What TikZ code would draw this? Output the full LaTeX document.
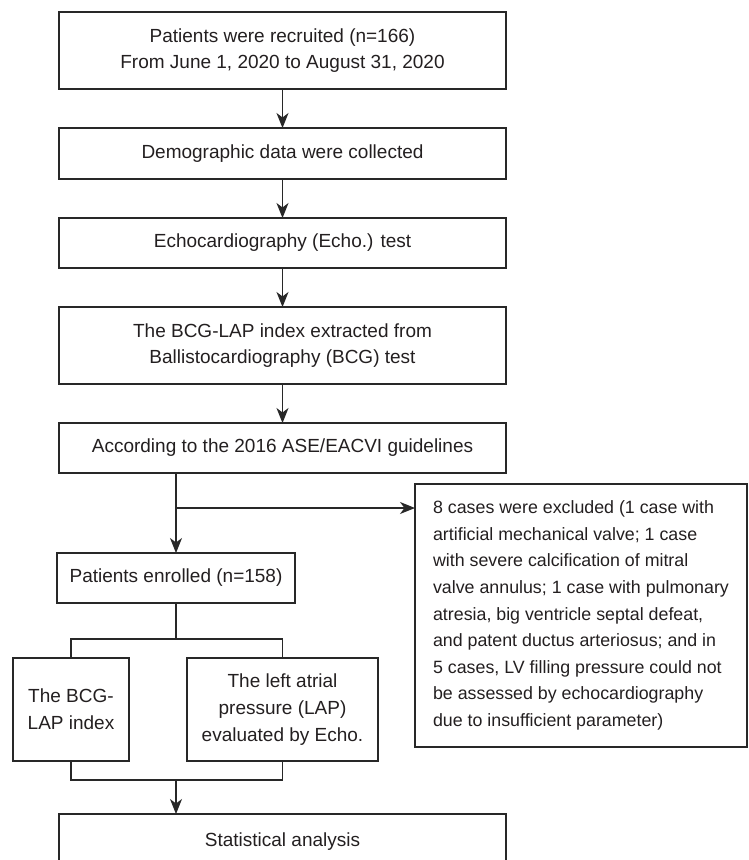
\documentclass[tikz,border=0pt]{standalone}
\usepackage{fontspec}
\setmainfont{Liberation Sans}
\usetikzlibrary{arrows.meta}
\definecolor{linec}{RGB}{40,40,40}
\definecolor{textc}{RGB}{35,31,32}
\begin{document}
\begin{tikzpicture}[x=1pt,y=-1pt,
  box/.style={draw=linec, line width=1.2pt, inner sep=0pt, outer sep=0pt, align=center,
    font=\fontsize{19}{26.7}\selectfont, text=textc},
  conn/.style={draw=linec, line width=1.2pt},
  arr/.style={conn, -{Stealth[length=15pt,width=12pt,inset=4.5pt]}}]
\useasboundingbox (0,0) rectangle (748,860);
\node[box, minimum width=447pt, minimum height=77pt] (b1) at (282.5,50.5)
  {Patients were recruited (n=166)\\From June 1, 2020 to August 31, 2020};
\node[box, minimum width=447pt, minimum height=51pt] (b2) at (282.5,153.5)
  {Demographic data were collected};
\node[box, minimum width=447pt, minimum height=50pt] (b3) at (282.5,243)
  {Echocardiography (Echo.) test};
\node[box, minimum width=447pt, minimum height=77pt] (b4) at (282.5,345.5)
  {The BCG-LAP index extracted from\\Ballistocardiography (BCG) test};
\node[box, minimum width=447pt, minimum height=50pt] (b5) at (282.5,448)
  {According to the 2016 ASE/EACVI guidelines};
\node[box, align=left, font=\fontsize{17.8}{26.6}\selectfont,
  minimum width=332pt, minimum height=263pt] (ex) at (581,615.5)
  {8 cases were excluded (1 case with\\
   artificial mechanical valve; 1 case\\
   with severe calcification of mitral\\
   valve annulus; 1 case with pulmonary\\
   atresia, big ventricle septal defeat,\\
   and patent ductus arteriosus; and in\\
   5 cases, LV filling pressure could not\\
   be assessed by echocardiography\\
   due to insufficient parameter)};
\node[box, minimum width=238pt, minimum height=50pt] (b6) at (176,578)
  {Patients enrolled (n=158)};
\node[box, minimum width=116pt, minimum height=103pt] (bA) at (71,709.5)
  {The BCG-\\LAP index};
\node[box, minimum width=191pt, minimum height=103pt] (bB) at (282.5,709.5)
  {The left atrial\\pressure (LAP)\\evaluated by Echo.};
\node[box, minimum width=447pt, minimum height=56pt] (bF) at (282.5,842)
  {Statistical analysis};
\draw[arr] (b1.south) -- (b2.north);
\draw[arr] (b2.south) -- (b3.north);
\draw[arr] (b3.south) -- (b4.north);
\draw[arr] (b4.south) -- (b5.north);
\draw[arr] (b5.south -| b6.north) -- (b6.north);
\coordinate (br) at (176,508);
\draw[arr] (br) -- (br -| ex.west);
\coordinate (sp) at (176,639);
\draw[conn] (b6.south) -- (sp);
\draw[conn] (bA.north) |- (sp) -| (bB.north);
\coordinate (mg) at (176,780);
\draw[conn] (bA.south) |- (mg) -| (bB.south);
\draw[arr] (mg) -- (mg |- bF.north);
\end{tikzpicture}
\end{document}
